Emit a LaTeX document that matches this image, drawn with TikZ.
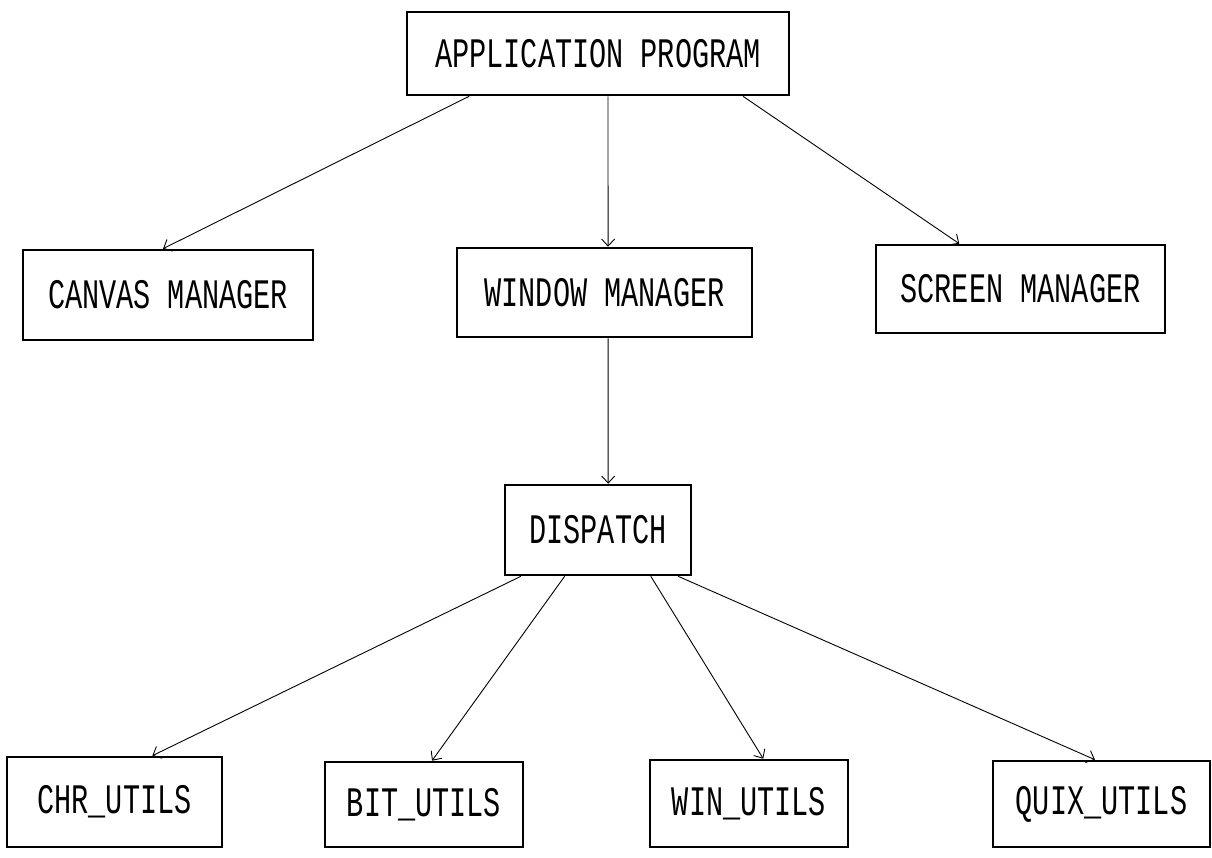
\documentclass[tikz,border=0pt]{standalone}
\usepackage{fontspec}
\usetikzlibrary{arrows.meta,calc}
\newfontfamily\plotfont[FakeStretch=0.68]{Liberation Mono}
\begin{document}
\begin{tikzpicture}[x=1pt,y=-1pt,
  box/.style={draw,line width=2.6pt,inner sep=0pt,
    font=\plotfont\fontsize{42}{44}\selectfont},
  link/.style={line width=0.9pt,
    -{Straight Barb[length=7pt,width=13pt,line width=0.9pt]}}]
\useasboundingbox (0,0) rectangle (1212,858);

% top level
\node[box,minimum width=382pt,minimum height=83pt] (app) at (598,53.5) {APPLICATION PROGRAM};

% managers
\node[box,minimum width=290pt,minimum height=90pt] (canvas) at (168,295) {CANVAS MANAGER};
\node[box,minimum width=295pt,minimum height=89pt] (window) at (604.5,292.5) {WINDOW MANAGER};
\node[box,minimum width=289pt,minimum height=88pt] (screen) at (1020.5,289) {SCREEN MANAGER};

% dispatcher
\node[box,minimum width=186pt,minimum height=90pt] (dispatch) at (598,530) {DISPATCH};

% utility modules
\node[box,minimum width=215pt,minimum height=90pt] (chr) at (114.5,802) {CHR\_UTILS};
\node[box,minimum width=198pt,minimum height=85pt] (bit) at (424,804.5) {BIT\_UTILS};
\node[box,minimum width=198pt,minimum height=87pt] (win) at (749,803.5) {WIN\_UTILS};
\node[box,minimum width=217pt,minimum height=86pt] (quix) at (1101.5,804) {QUIX\_UTILS};

% calls from the application program
\draw[link] ($(app.south west)!0.165!(app.south east)$) -- ($(canvas.north west)!0.483!(canvas.north east)$);
\draw[link] ($(app.south west)!0.526!(app.south east)$) -- ($(window.north west)!0.512!(window.north east)$);
\draw[link] ($(app.south west)!0.877!(app.south east)$) -- ($(screen.north west)!0.29!(screen.north east)$);

% window manager to dispatcher
\draw[link] ($(window.south west)!0.512!(window.south east)$) -- ($(dispatch.north west)!0.554!(dispatch.north east)$);

% dispatcher to utilities
\draw[link] ($(dispatch.south west)!0.091!(dispatch.south east)$) -- ($(chr.north west)!0.674!(chr.north east)$);
\draw[link] ($(dispatch.south west)!0.323!(dispatch.south east)$) -- ($(bit.north west)!0.54!(bit.north east)$);
\draw[link] ($(dispatch.south west)!0.780!(dispatch.south east)$) -- ($(win.north west)!0.571!(win.north east)$);
\draw[link] ($(dispatch.south west)!0.925!(dispatch.south east)$) -- ($(quix.north west)!0.47!(quix.north east)$);
\end{tikzpicture}
\end{document}
